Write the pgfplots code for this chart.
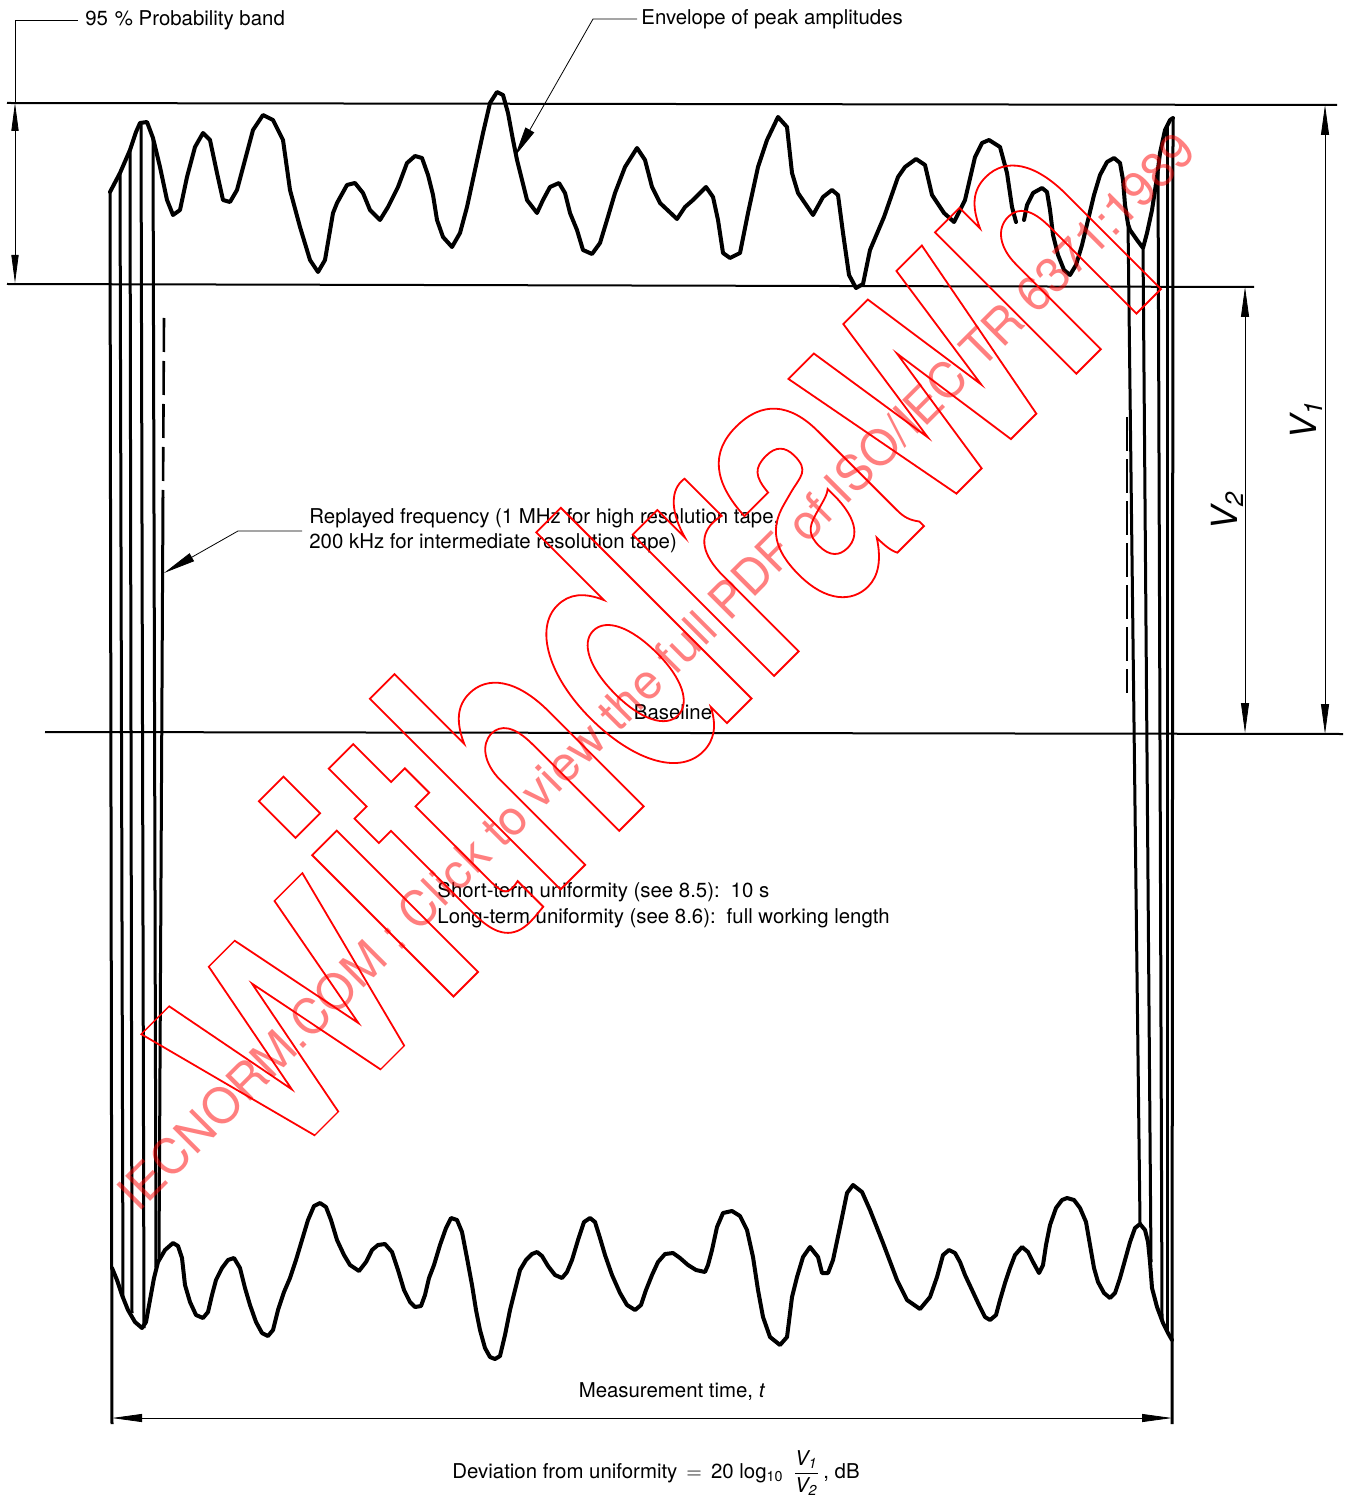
\documentclass[border=0pt]{standalone}
\usepackage{fontspec}
\setmainfont{TeX Gyre Heros}
\newfontfamily\wmfont[FakeStretch=0.67]{TeX Gyre Heros Bold}
\usepackage{graphicx}
\usepackage{pgfplots}
\pgfplotsset{compat=1.18}
\usetikzlibrary{arrows.meta}
\begin{document}
\begin{tikzpicture}
\begin{axis}[width=675pt,height=751pt,scale only axis,
  xmin=0,xmax=1350,ymin=0,ymax=1502,y dir=reverse,hide axis,clip=false,
  every axis plot/.append style={no marks}]
\pgfplotsset{curve/.style={black,line width=2pt,line join=round,line cap=round},
  vline/.style={black,line width=1.5pt},
  thin/.style={black,line width=1pt}}
% horizontal reference lines
\addplot[thin] coordinates {(7,103) (1337,105)};
\addplot[thin] coordinates {(7,284) (1254,287)};
\addplot[thin] coordinates {(45,732) (1343,734)};
% top envelope, first part
\addplot[curve] coordinates {
(110,192) (120,173) (130,150) (136,132) (140,123) (147,122) (153,138) (160,167) (167,200) (173,215)
(180,210) (187,177) (195,147) (203,133) (210,140) (217,173) (223,200) (230,202) (237,190) (245,160)
(253,130) (263,115) (273,120) (283,140) (290,190) (300,227) (310,260) (318,272) (325,260) (333,213)
(337,203) (347,185) (355,183) (363,193) (370,210) (380,220) (388,207) (398,187) (407,163) (415,156)
(422,158) (428,175) (433,195) (437,220) (443,237) (452,247) (460,233) (467,207) (475,170) (483,133)
(490,103) (497,92) (503,95) (508,113) (513,140) (517,160) (522,180) (527,200) (537,213) (543,200)
(550,187) (559,183) (565,193) (570,213) (577,230) (583,250) (592,254) (600,243) (607,220) (615,193)
(625,167) (637,148) (645,160) (652,187) (660,203) (677,219) (685,207) (693,200) (706,187) (713,197)
(718,220) (723,253) (730,258) (740,253) (748,213) (758,167) (767,140) (778,117) (787,127) (792,173)
(798,193) (813,215) (823,197) (832,190) (838,195) (843,233) (849,275) (856,288) (863,284) (870,250)
(884,217) (898,177) (905,167) (916,159) (925,165) (932,195) (944,213) (954,222) (965,200) (975,157)
(982,143) (989,140) (1000,147) (1007,173) (1012,207) (1016,222)};
% top envelope, second part
\addplot[curve] coordinates {
(1024,220) (1027,205) (1033,193) (1042,188) (1047,192) (1050,210) (1053,235) (1058,255) (1064,270)
(1070,275) (1076,265) (1082,245) (1088,220) (1094,195) (1100,175) (1107,162) (1114,158) (1120,163)
(1123,180) (1125,205) (1128,224) (1130,230) (1137,240) (1143,248) (1147,233) (1152,210) (1157,177)
(1160,153) (1165,130) (1170,120) (1173,118)};
% bottom envelope
\addplot[curve] coordinates {
(112,1268) (117,1280) (122,1295) (128,1310) (135,1322) (142,1328) (146,1322) (150,1300) (154,1278)
(158,1262) (165,1250) (173,1243) (178,1246) (182,1258) (185,1285) (190,1302) (196,1315) (203,1318)
(208,1312) (212,1295) (216,1280) (222,1268) (228,1260) (234,1258) (240,1268) (245,1288) (250,1305)
(256,1322) (262,1333) (268,1336) (273,1330) (278,1310) (284,1292) (290,1278) (296,1260) (302,1240)
(308,1220) (314,1206) (320,1203) (326,1207) (331,1220) (337,1240) (344,1255) (350,1265) (359,1271)
(366,1262) (372,1250) (378,1245) (385,1244) (392,1252) (398,1270) (404,1290) (410,1302) (415,1307)
(421,1306) (425,1295) (429,1278) (434,1265) (440,1245) (446,1228) (451,1218) (457,1220) (462,1232)
(467,1258) (472,1285) (476,1310) (480,1330) (485,1348) (490,1357) (495,1359) (500,1356) (505,1335)
(510,1310) (515,1290) (520,1270) (526,1260) (532,1254) (537,1252) (542,1256) (548,1266) (555,1275)
(562,1278) (567,1272) (572,1260) (578,1240) (584,1222) (590,1218) (595,1222) (600,1238) (605,1255)
(612,1275) (620,1293) (627,1305) (635,1310) (641,1305) (646,1290) (652,1275) (658,1262) (665,1254)
(673,1253) (680,1258) (688,1265) (696,1270) (705,1272) (708,1265) (712,1250) (717,1227) (723,1213)
(732,1211) (740,1216) (747,1230) (753,1257) (758,1290) (763,1317) (770,1337) (780,1345) (787,1337)
(792,1297) (797,1277) (803,1257) (810,1247) (818,1257) (822,1273) (828,1273) (833,1260) (840,1227)
(847,1193) (853,1185) (862,1192) (870,1210) (883,1243) (897,1280) (907,1300) (920,1309) (930,1297)
(937,1277) (943,1255) (949,1250) (955,1253) (960,1262) (965,1275) (972,1290) (979,1305) (985,1317)
(990,1320) (996,1315) (1000,1300) (1005,1283) (1010,1268) (1015,1255) (1022,1247) (1028,1252)
(1033,1262) (1039,1273) (1043,1265) (1046,1245) (1050,1225) (1056,1208) (1062,1200) (1067,1198)
(1074,1200) (1080,1208) (1086,1222) (1090,1245) (1094,1268) (1098,1282) (1104,1293) (1110,1298)
(1115,1293) (1120,1278) (1125,1260) (1130,1242) (1135,1228) (1140,1224) (1145,1230) (1148,1242)
(1150,1262) (1152,1288) (1157,1307) (1163,1323) (1168,1333) (1172,1340)};
% left cluster of replayed-frequency lines
\addplot[vline] coordinates {(110,192) (112,1424)};
\addplot[vline] coordinates {(120,173) (123,1297)};
\addplot[vline] coordinates {(130,150) (132,1313)};
\addplot[vline] coordinates {(141,123) (144,1328)};
\addplot[vline] coordinates {(153,138) (156,1268)};
\addplot[vline] coordinates {(163,497) (159,1258)};
\addplot[thin,line width=1.3pt,dash pattern=on 17pt off 4.5pt] coordinates {(164,318) (163,497)};
% right cluster
\addplot[vline] coordinates {(1128,224) (1140,1224)};
\addplot[vline] coordinates {(1143,248) (1151,1262)};
\addplot[vline] coordinates {(1158,172) (1162,1320)};
\addplot[vline] coordinates {(1167,124) (1167,1330)};
\addplot[vline] coordinates {(1173,118) (1172,1424)};
\addplot[thin,line width=1.3pt,dash pattern=on 17pt off 4pt] coordinates {(1127,417) (1127,693)};
% dimension arrows
\draw[thin,{Triangle[length=14pt,width=3.6pt]}-{Triangle[length=14pt,width=3.6pt]}] (15,103) -- (15,283);
\draw[thin] (15,103) -- (15,20) -- (78,20);
\draw[thin,{Triangle[length=15pt,width=4pt]}-{Triangle[length=15pt,width=4pt]}] (1245,287) -- (1245,733);
\draw[thin,{Triangle[length=15pt,width=4pt]}-{Triangle[length=15pt,width=4pt]}] (1325,105) -- (1325,734);
\draw[thin,{Triangle[length=15pt,width=4pt]}-{Triangle[length=15pt,width=4pt]}] (112,1418) -- (1172,1418);
% leaders
\draw[thin,-{Triangle[length=15pt,width=5pt]}] (637,19) -- (593,19) -- (515,156);
\draw[thin,-{Triangle[length=16pt,width=4.5pt]}] (302,531) -- (238,531) -- (164,573);
% texts
\begin{scope}[every node/.style={font=\fontsize{10.2}{12.5}\selectfont,inner sep=0pt}]
\node[anchor=base west] at (85,26) {95\,\,\% Probability band};
\node[anchor=base west] at (641,25) {Envelope of peak amplitudes};
\node[anchor=base west] at (309,523) {Replayed frequency (1 MHz for high resolution tape,};
\node[anchor=base west] at (309,548) {200 kHz for intermediate resolution tape)};
\node[anchor=base] at (673,719) {Baseline};
\node[anchor=base west] at (437,897) {Short-term uniformity (see 8.5):\, 10 s};
\node[anchor=base west] at (437,923) {Long-term uniformity (see 8.6):\, full working length};
\node[anchor=base] at (672,1397) {Measurement time, \textit{t}};
\node[anchor=west] at (452,1473) {Deviation from uniformity \,\(=\)\, 20 log\textsubscript{10}\, \(\displaystyle\frac{\mbox{\itshape V\textsubscript{1}}}{\mbox{\itshape V\textsubscript{2}}}\)\,, dB};
\node[rotate=90,font=\fontsize{18}{18}\selectfont] at (1227,511) {\itshape V\textsubscript{2}};
\node[rotate=90,font=\fontsize{18}{18}\selectfont] at (1306,420) {\itshape V\textsubscript{1}};
\end{scope}
% watermark
\node[rotate=45,anchor=base west,inner sep=0pt,text=red] at (276,1174)
  {\special{pdf:literal direct 1 Tr 0.9 w}\wmfont\fontsize{185}{185}\selectfont \scalebox{1}[0.72]{W}ithdrawn\special{pdf:literal direct 0 Tr}};
\node[rotate=45,anchor=base west,inner sep=0pt,text=red,text opacity=0.5] at (138,1214)
  {\fontsize{24.3}{24}\selectfont IECNORM.COM : Click to view the full PDF of ISO/IEC TR 6371:1989};
\end{axis}
\pgfresetboundingbox
\path[use as bounding box] (current axis.south west) rectangle (current axis.north east);
\end{tikzpicture}
\end{document}
